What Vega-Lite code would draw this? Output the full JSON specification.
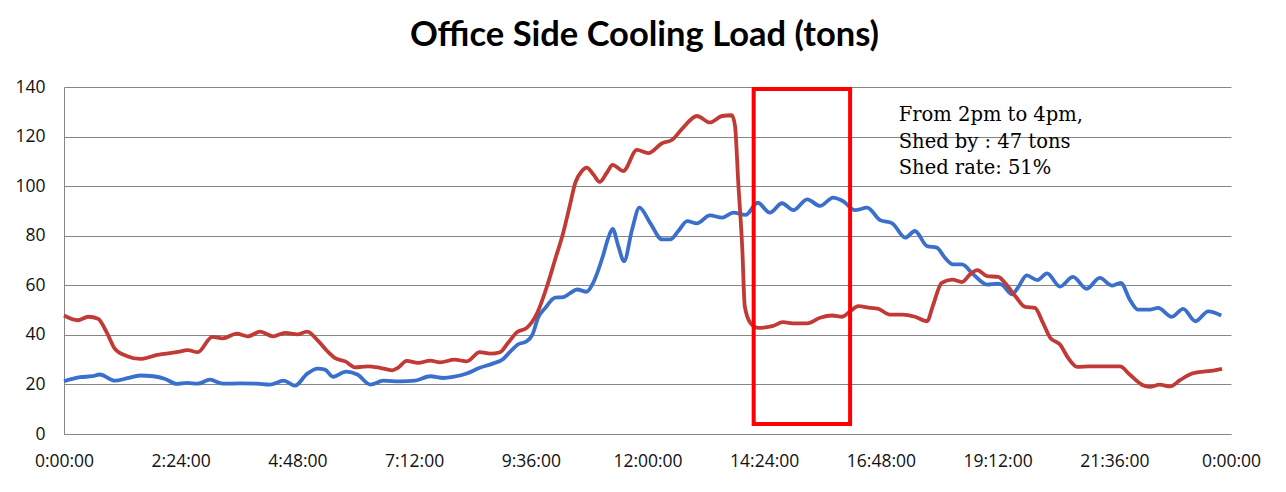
{
  "$schema": "https://vega.github.io/schema/vega-lite/v6.json",
  "width": 1167,
  "height": 347,
  "autosize": "none",
  "padding": {"left": 64, "top": 87, "right": 55, "bottom": 58},
  "background": "white",
  "title": {
    "text": "Office Side Cooling Load (tons)",
    "font": "Lato",
    "fontWeight": "bold",
    "fontSize": 34.5,
    "color": "#000000",
    "anchor": "middle",
    "frame": "group",
    "baseline": "alphabetic",
    "offset": 34,
    "dx": -3,
    "dy": 36
  },
  "config": {
    "view": {"stroke": null},
    "axis": {"labelFont": "Open Sans", "labelFontSize": 17.5, "labelColor": "#111111"}
  },
  "datasets": {
    "load": [
      {"series": "Baseline", "minute": 0, "tons": 21.3},
      {"series": "Baseline", "minute": 20, "tons": 22.9},
      {"series": "Baseline", "minute": 35, "tons": 23.3},
      {"series": "Baseline", "minute": 44, "tons": 24.0},
      {"series": "Baseline", "minute": 63, "tons": 21.5},
      {"series": "Baseline", "minute": 78, "tons": 22.5},
      {"series": "Baseline", "minute": 94, "tons": 23.6},
      {"series": "Baseline", "minute": 110, "tons": 23.3},
      {"series": "Baseline", "minute": 125, "tons": 22.2},
      {"series": "Baseline", "minute": 139, "tons": 20.2},
      {"series": "Baseline", "minute": 152, "tons": 20.6},
      {"series": "Baseline", "minute": 165, "tons": 20.3},
      {"series": "Baseline", "minute": 180, "tons": 21.9},
      {"series": "Baseline", "minute": 196, "tons": 20.3},
      {"series": "Baseline", "minute": 217, "tons": 20.4},
      {"series": "Baseline", "minute": 238, "tons": 20.3},
      {"series": "Baseline", "minute": 254, "tons": 19.9},
      {"series": "Baseline", "minute": 271, "tons": 21.5},
      {"series": "Baseline", "minute": 285, "tons": 19.5},
      {"series": "Baseline", "minute": 300, "tons": 24.3},
      {"series": "Baseline", "minute": 313, "tons": 26.4},
      {"series": "Baseline", "minute": 322, "tons": 26.0},
      {"series": "Baseline", "minute": 332, "tons": 23.1},
      {"series": "Baseline", "minute": 348, "tons": 25.2},
      {"series": "Baseline", "minute": 362, "tons": 24.0},
      {"series": "Baseline", "minute": 378, "tons": 19.9},
      {"series": "Baseline", "minute": 394, "tons": 21.5},
      {"series": "Baseline", "minute": 415, "tons": 21.2},
      {"series": "Baseline", "minute": 433, "tons": 21.5},
      {"series": "Baseline", "minute": 452, "tons": 23.3},
      {"series": "Baseline", "minute": 468, "tons": 22.6},
      {"series": "Baseline", "minute": 480, "tons": 23.0},
      {"series": "Baseline", "minute": 497, "tons": 24.4},
      {"series": "Baseline", "minute": 513, "tons": 26.7},
      {"series": "Baseline", "minute": 529, "tons": 28.4},
      {"series": "Baseline", "minute": 542, "tons": 30.3},
      {"series": "Baseline", "minute": 550, "tons": 33.0},
      {"series": "Baseline", "minute": 560, "tons": 36.1},
      {"series": "Baseline", "minute": 571, "tons": 37.4},
      {"series": "Baseline", "minute": 578, "tons": 40.1},
      {"series": "Baseline", "minute": 585, "tons": 46.9},
      {"series": "Baseline", "minute": 594, "tons": 50.9},
      {"series": "Baseline", "minute": 606, "tons": 55.0},
      {"series": "Baseline", "minute": 616, "tons": 55.2},
      {"series": "Baseline", "minute": 624, "tons": 56.7},
      {"series": "Baseline", "minute": 633, "tons": 58.3},
      {"series": "Baseline", "minute": 645, "tons": 57.4},
      {"series": "Baseline", "minute": 653, "tons": 61.0},
      {"series": "Baseline", "minute": 665, "tons": 71.8},
      {"series": "Baseline", "minute": 671, "tons": 78.5},
      {"series": "Baseline", "minute": 677, "tons": 82.7},
      {"series": "Baseline", "minute": 684, "tons": 75.8},
      {"series": "Baseline", "minute": 691, "tons": 69.7},
      {"series": "Baseline", "minute": 701, "tons": 82.5},
      {"series": "Baseline", "minute": 710, "tons": 91.3},
      {"series": "Baseline", "minute": 723, "tons": 85.3},
      {"series": "Baseline", "minute": 738, "tons": 78.5},
      {"series": "Baseline", "minute": 748, "tons": 78.5},
      {"series": "Baseline", "minute": 758, "tons": 81.9},
      {"series": "Baseline", "minute": 769, "tons": 85.9},
      {"series": "Baseline", "minute": 781, "tons": 85.0},
      {"series": "Baseline", "minute": 797, "tons": 88.2},
      {"series": "Baseline", "minute": 812, "tons": 87.3},
      {"series": "Baseline", "minute": 826, "tons": 89.3},
      {"series": "Baseline", "minute": 841, "tons": 88.4},
      {"series": "Baseline", "minute": 856, "tons": 93.3},
      {"series": "Baseline", "minute": 871, "tons": 89.3},
      {"series": "Baseline", "minute": 886, "tons": 93.1},
      {"series": "Baseline", "minute": 900, "tons": 90.3},
      {"series": "Baseline", "minute": 917, "tons": 94.7},
      {"series": "Baseline", "minute": 933, "tons": 92.0},
      {"series": "Baseline", "minute": 949, "tons": 95.4},
      {"series": "Baseline", "minute": 961, "tons": 94.0},
      {"series": "Baseline", "minute": 976, "tons": 90.3},
      {"series": "Baseline", "minute": 991, "tons": 91.3},
      {"series": "Baseline", "minute": 1007, "tons": 86.3},
      {"series": "Baseline", "minute": 1022, "tons": 85.0},
      {"series": "Baseline", "minute": 1038, "tons": 79.2},
      {"series": "Baseline", "minute": 1050, "tons": 81.9},
      {"series": "Baseline", "minute": 1065, "tons": 75.8},
      {"series": "Baseline", "minute": 1077, "tons": 75.2},
      {"series": "Baseline", "minute": 1087, "tons": 71.1},
      {"series": "Baseline", "minute": 1097, "tons": 68.4},
      {"series": "Baseline", "minute": 1108, "tons": 68.4},
      {"series": "Baseline", "minute": 1122, "tons": 64.4},
      {"series": "Baseline", "minute": 1139, "tons": 60.3},
      {"series": "Baseline", "minute": 1151, "tons": 60.7},
      {"series": "Baseline", "minute": 1157, "tons": 60.3},
      {"series": "Baseline", "minute": 1170, "tons": 56.3},
      {"series": "Baseline", "minute": 1177, "tons": 59.0},
      {"series": "Baseline", "minute": 1188, "tons": 64.0},
      {"series": "Baseline", "minute": 1201, "tons": 62.1},
      {"series": "Baseline", "minute": 1213, "tons": 64.8},
      {"series": "Baseline", "minute": 1229, "tons": 59.5},
      {"series": "Baseline", "minute": 1245, "tons": 63.4},
      {"series": "Baseline", "minute": 1262, "tons": 58.6},
      {"series": "Baseline", "minute": 1278, "tons": 63.0},
      {"series": "Baseline", "minute": 1293, "tons": 59.9},
      {"series": "Baseline", "minute": 1304, "tons": 61.0},
      {"series": "Baseline", "minute": 1315, "tons": 54.3},
      {"series": "Baseline", "minute": 1325, "tons": 50.2},
      {"series": "Baseline", "minute": 1340, "tons": 50.2},
      {"series": "Baseline", "minute": 1350, "tons": 50.9},
      {"series": "Baseline", "minute": 1367, "tons": 47.3},
      {"series": "Baseline", "minute": 1381, "tons": 50.5},
      {"series": "Baseline", "minute": 1396, "tons": 45.5},
      {"series": "Baseline", "minute": 1412, "tons": 49.5},
      {"series": "Baseline", "minute": 1428, "tons": 47.8},
      {"series": "Event day", "minute": 0, "tons": 47.8},
      {"series": "Event day", "minute": 17, "tons": 45.9},
      {"series": "Event day", "minute": 30, "tons": 47.3},
      {"series": "Event day", "minute": 42, "tons": 46.5},
      {"series": "Event day", "minute": 53, "tons": 40.8},
      {"series": "Event day", "minute": 63, "tons": 34.3},
      {"series": "Event day", "minute": 78, "tons": 31.4},
      {"series": "Event day", "minute": 94, "tons": 30.3},
      {"series": "Event day", "minute": 115, "tons": 31.9},
      {"series": "Event day", "minute": 139, "tons": 33.0},
      {"series": "Event day", "minute": 153, "tons": 33.8},
      {"series": "Event day", "minute": 165, "tons": 33.0},
      {"series": "Event day", "minute": 183, "tons": 39.2},
      {"series": "Event day", "minute": 196, "tons": 38.6},
      {"series": "Event day", "minute": 213, "tons": 40.5},
      {"series": "Event day", "minute": 227, "tons": 39.4},
      {"series": "Event day", "minute": 242, "tons": 41.3},
      {"series": "Event day", "minute": 258, "tons": 39.4},
      {"series": "Event day", "minute": 273, "tons": 40.8},
      {"series": "Event day", "minute": 288, "tons": 40.2},
      {"series": "Event day", "minute": 300, "tons": 41.3},
      {"series": "Event day", "minute": 313, "tons": 37.8},
      {"series": "Event day", "minute": 325, "tons": 33.4},
      {"series": "Event day", "minute": 334, "tons": 30.7},
      {"series": "Event day", "minute": 347, "tons": 29.3},
      {"series": "Event day", "minute": 359, "tons": 26.9},
      {"series": "Event day", "minute": 375, "tons": 27.3},
      {"series": "Event day", "minute": 390, "tons": 26.7},
      {"series": "Event day", "minute": 405, "tons": 25.7},
      {"series": "Event day", "minute": 412, "tons": 26.7},
      {"series": "Event day", "minute": 423, "tons": 29.5},
      {"series": "Event day", "minute": 437, "tons": 28.7},
      {"series": "Event day", "minute": 452, "tons": 29.6},
      {"series": "Event day", "minute": 464, "tons": 28.9},
      {"series": "Event day", "minute": 482, "tons": 30.0},
      {"series": "Event day", "minute": 497, "tons": 29.3},
      {"series": "Event day", "minute": 513, "tons": 33.0},
      {"series": "Event day", "minute": 526, "tons": 32.4},
      {"series": "Event day", "minute": 538, "tons": 33.0},
      {"series": "Event day", "minute": 548, "tons": 36.8},
      {"series": "Event day", "minute": 559, "tons": 41.1},
      {"series": "Event day", "minute": 571, "tons": 42.8},
      {"series": "Event day", "minute": 584, "tons": 48.9},
      {"series": "Event day", "minute": 596, "tons": 59.6},
      {"series": "Event day", "minute": 606, "tons": 70.4},
      {"series": "Event day", "minute": 616, "tons": 81.2},
      {"series": "Event day", "minute": 624, "tons": 92.0},
      {"series": "Event day", "minute": 631, "tons": 101.4},
      {"series": "Event day", "minute": 639, "tons": 106.1},
      {"series": "Event day", "minute": 645, "tons": 107.5},
      {"series": "Event day", "minute": 653, "tons": 104.8},
      {"series": "Event day", "minute": 661, "tons": 101.7},
      {"series": "Event day", "minute": 670, "tons": 105.5},
      {"series": "Event day", "minute": 677, "tons": 108.6},
      {"series": "Event day", "minute": 690, "tons": 106.1},
      {"series": "Event day", "minute": 707, "tons": 114.6},
      {"series": "Event day", "minute": 721, "tons": 113.3},
      {"series": "Event day", "minute": 738, "tons": 117.3},
      {"series": "Event day", "minute": 750, "tons": 118.6},
      {"series": "Event day", "minute": 764, "tons": 123.6},
      {"series": "Event day", "minute": 781, "tons": 128.3},
      {"series": "Event day", "minute": 797, "tons": 125.7},
      {"series": "Event day", "minute": 812, "tons": 128.3},
      {"series": "Event day", "minute": 824, "tons": 128.6},
      {"series": "Event day", "minute": 828, "tons": 124.3},
      {"series": "Event day", "minute": 832, "tons": 101.4},
      {"series": "Event day", "minute": 837, "tons": 74.5},
      {"series": "Event day", "minute": 840, "tons": 51.6},
      {"series": "Event day", "minute": 847, "tons": 44.8},
      {"series": "Event day", "minute": 857, "tons": 42.8},
      {"series": "Event day", "minute": 874, "tons": 43.5},
      {"series": "Event day", "minute": 887, "tons": 45.1},
      {"series": "Event day", "minute": 902, "tons": 44.6},
      {"series": "Event day", "minute": 917, "tons": 44.6},
      {"series": "Event day", "minute": 933, "tons": 46.9},
      {"series": "Event day", "minute": 948, "tons": 47.8},
      {"series": "Event day", "minute": 960, "tons": 47.3},
      {"series": "Event day", "minute": 970, "tons": 49.5},
      {"series": "Event day", "minute": 980, "tons": 51.6},
      {"series": "Event day", "minute": 995, "tons": 50.9},
      {"series": "Event day", "minute": 1004, "tons": 50.6},
      {"series": "Event day", "minute": 1019, "tons": 48.2},
      {"series": "Event day", "minute": 1035, "tons": 48.2},
      {"series": "Event day", "minute": 1050, "tons": 47.3},
      {"series": "Event day", "minute": 1065, "tons": 45.5},
      {"series": "Event day", "minute": 1072, "tons": 51.6},
      {"series": "Event day", "minute": 1083, "tons": 61.0},
      {"series": "Event day", "minute": 1096, "tons": 62.3},
      {"series": "Event day", "minute": 1108, "tons": 61.3},
      {"series": "Event day", "minute": 1118, "tons": 64.4},
      {"series": "Event day", "minute": 1127, "tons": 66.1},
      {"series": "Event day", "minute": 1139, "tons": 63.7},
      {"series": "Event day", "minute": 1153, "tons": 63.4},
      {"series": "Event day", "minute": 1161, "tons": 61.0},
      {"series": "Event day", "minute": 1174, "tons": 55.6},
      {"series": "Event day", "minute": 1186, "tons": 51.3},
      {"series": "Event day", "minute": 1198, "tons": 50.9},
      {"series": "Event day", "minute": 1208, "tons": 44.8},
      {"series": "Event day", "minute": 1217, "tons": 38.8},
      {"series": "Event day", "minute": 1229, "tons": 36.1},
      {"series": "Event day", "minute": 1239, "tons": 30.7},
      {"series": "Event day", "minute": 1250, "tons": 27.1},
      {"series": "Event day", "minute": 1266, "tons": 27.3},
      {"series": "Event day", "minute": 1287, "tons": 27.3},
      {"series": "Event day", "minute": 1303, "tons": 27.3},
      {"series": "Event day", "minute": 1315, "tons": 24.0},
      {"series": "Event day", "minute": 1330, "tons": 19.9},
      {"series": "Event day", "minute": 1340, "tons": 19.0},
      {"series": "Event day", "minute": 1352, "tons": 19.9},
      {"series": "Event day", "minute": 1365, "tons": 19.2},
      {"series": "Event day", "minute": 1377, "tons": 21.7},
      {"series": "Event day", "minute": 1392, "tons": 24.4},
      {"series": "Event day", "minute": 1406, "tons": 25.2},
      {"series": "Event day", "minute": 1418, "tons": 25.6},
      {"series": "Event day", "minute": 1429, "tons": 26.3}
    ],
    "shed": [{"start": 851, "end": 970, "low": 4, "high": 139.2}],
    "note": [
      {"minute": 1030, "tons": 128.7, "text": "From 2pm to 4pm,"},
      {"minute": 1030, "tons": 117.9, "text": "Shed by : 47 tons"},
      {"minute": 1030, "tons": 107.2, "text": "Shed rate: 51%"}
    ]
  },
  "layer": [
    {
      "data": {"name": "load"},
      "transform": [{"filter": "datum.series === 'Baseline'"}],
      "mark": {"type": "line", "interpolate": "monotone", "strokeWidth": 3.8, "color": "#3A6FCB"},
      "encoding": {
        "x": {
          "field": "minute", "type": "quantitative",
          "scale": {"domain": [0, 1440], "nice": false, "zero": false},
          "axis": {
            "title": null,
            "values": [0, 144, 288, 432, 576, 720, 864, 1008, 1152, 1296, 1440],
            "labelExpr": "floor((datum.value % 1440) / 60) + ':' + (datum.value % 60 < 10 ? '0' : '') + (datum.value % 60) + ':00'",
            "ticks": false, "tickSize": 0,
            "grid": false,
            "domainColor": "#868686", "domainWidth": 1,
            "labelPadding": 18, "labelFlush": false, "labelOverlap": false
          }
        },
        "y": {
          "field": "tons", "type": "quantitative",
          "scale": {"domain": [0, 140], "nice": false},
          "axis": {
            "title": null,
            "values": [0, 20, 40, 60, 80, 100, 120, 140],
            "ticks": false, "tickSize": 0,
            "grid": true, "gridColor": "#868686", "gridWidth": 1,
            "domainColor": "#868686", "domainWidth": 1,
            "labelPadding": 19
          }
        }
      }
    },
    {
      "data": {"name": "load"},
      "transform": [{"filter": "datum.series === 'Event day'"}],
      "mark": {"type": "line", "interpolate": "monotone", "strokeWidth": 3.8, "color": "#C23A35"},
      "encoding": {
        "x": {"field": "minute", "type": "quantitative"},
        "y": {"field": "tons", "type": "quantitative"}
      }
    },
    {
      "data": {"name": "shed"},
      "mark": {"type": "rect", "fill": null, "fillOpacity": 0, "stroke": "#FF0000", "strokeWidth": 4},
      "encoding": {
        "x": {"field": "start", "type": "quantitative"},
        "x2": {"field": "end"},
        "y": {"field": "low", "type": "quantitative"},
        "y2": {"field": "high"}
      }
    },
    {
      "data": {"name": "note"},
      "mark": {"type": "text", "align": "left", "baseline": "middle", "font": "DejaVu Serif", "fontSize": 19.5, "color": "#000000"},
      "encoding": {
        "x": {"field": "minute", "type": "quantitative"},
        "y": {"field": "tons", "type": "quantitative"},
        "text": {"field": "text"}
      }
    }
  ]
}
